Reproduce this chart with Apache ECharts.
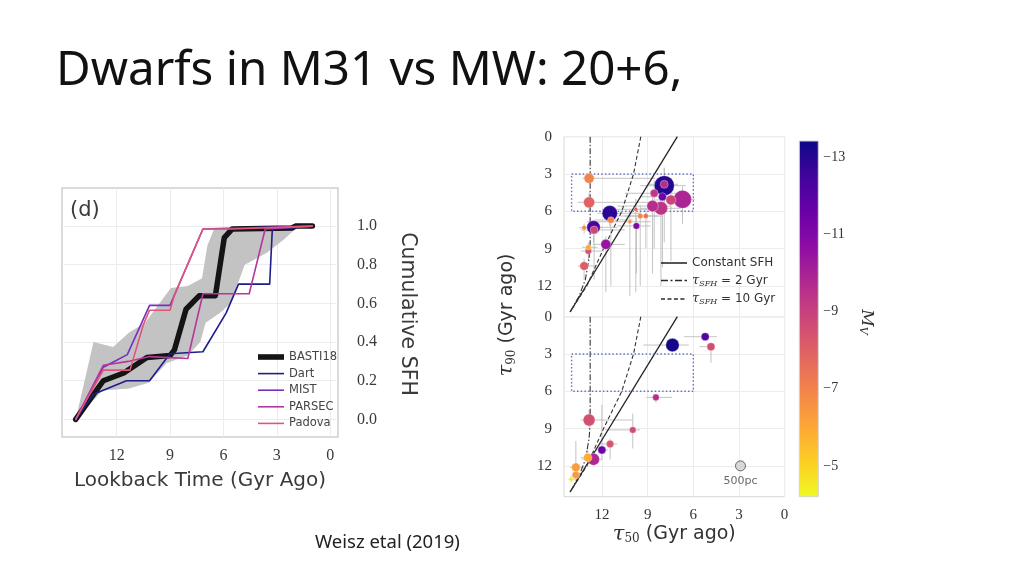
<!DOCTYPE html>
<html><head><meta charset="utf-8">
<script src="https://cdn.jsdelivr.net/npm/echarts@6/dist/echarts.min.js"></script>
<style>html,body{margin:0;padding:0;background:#fff}#c{width:1024px;height:576px}</style>
</head><body><div id="c"></div>
<script>
// ---------------- texts ----------------
const slideTitle = 'Dwarfs in M31 vs MW: 20+6,';
const citation = 'Weisz etal (2019)';
const panelTag = '(d)';

// ---------------- left panel: cumulative SFH ----------------
const sfhXTicks = [12, 9, 6, 3, 0];
const sfhYTicks = [0, 0.2, 0.4, 0.6, 0.8, 1.0];
const sfhNames = ['BASTI18', 'Dart', 'MIST', 'PARSEC', 'Padova'];
const bastiX = [14.3, 12.75, 11.6, 10.3, 9.0, 8.75, 8.1, 7.35, 6.45, 5.95, 5.5, 2.15, 1.95, 1.0];
const bastiY = [0, 0.20, 0.24, 0.32, 0.33, 0.36, 0.57, 0.64, 0.64, 0.94, 0.985, 0.99, 1.0, 1.0];
const dartX = [14.3, 13.3, 11.45, 10.15, 9.0, 7.15, 5.85, 5.15, 3.4, 3.25, 2.1, 1.0];
const dartY = [0, 0.13, 0.20, 0.20, 0.34, 0.35, 0.55, 0.70, 0.70, 0.985, 0.99, 1.0];
const mistX = [14.3, 12.75, 11.4, 10.15, 9.0, 7.15, 1.0];
const mistY = [0, 0.27, 0.335, 0.59, 0.59, 0.985, 1.0];
const parsecX = [14.3, 12.75, 11.35, 10.15, 8.0, 7.15, 4.55, 3.65, 1.0];
const parsecY = [0, 0.28, 0.30, 0.325, 0.315, 0.65, 0.65, 0.985, 1.0];
const padovaX = [14.3, 12.75, 11.25, 10.5, 10.15, 9.0, 8.75, 7.15, 5.5, 1.0];
const padovaY = [0, 0.255, 0.255, 0.49, 0.565, 0.565, 0.645, 0.985, 0.985, 1.0];
const bandUpX = [14.3, 13.3, 12.2, 11.3, 10.4, 9.6, 8.95, 8.0, 7.2, 6.9, 6.5, 1.0];
const bandUpY = [0, 0.40, 0.375, 0.45, 0.50, 0.60, 0.68, 0.69, 0.73, 0.90, 0.99, 1.0];
const bandLoX = [14.3, 12.8, 11.3, 10.2, 9.2, 8.0, 7.3, 7.0, 6.2, 5.6, 4.8, 4.2, 3.6, 2.6, 1.9, 1.0];
const bandLoY = [0, 0.15, 0.16, 0.19, 0.29, 0.33, 0.40, 0.50, 0.55, 0.60, 0.80, 0.83, 0.86, 0.93, 0.99, 1.0];

// ---------------- right panel: tau50 vs tau90 ----------------
const tauTicks = [0, 3, 6, 9, 12];
const mvTicks = [-13, -11, -9, -7, -5];
const mvMin = -13.43, mvMax = -4.2;
const modelNames = ['Constant SFH', 'τSFH = 2 Gyr', 'τSFH = 10 Gyr'];
const constX = [14.1, 7.05];
const constY = [14.1, 0];
const tau2X = [12.78, 12.78, 12.85, 13.1, 13.5, 14.1];
const tau2Y = [0, 8.5, 9.8, 11.5, 12.8, 14.1];
const tau10X = [9.45, 9.93, 10.7, 11.9, 13.0, 14.1];
const tau10Y = [0, 3, 6, 9, 12, 14.1];
const boxX = [14, 6, 6, 14, 14];
const boxY = [3, 3, 6, 6, 3];

// M31 (upper panel)
const m31T50 = [7.91, 6.71, 11.49, 12.56, 8.13, 8.68, 12.85, 12.85, 11.75, 7.47, 13.18, 7.91, 8.57, 8.03, 12.52, 11.42, 12.9, 9.74, 12.9, 9.49, 9.12, 13.18, 9.78, 10.17];
const m31T90 = [3.94, 5.04, 6.16, 7.29, 5.76, 5.58, 5.28, 3.35, 8.66, 5.09, 10.4, 3.83, 4.55, 4.83, 7.5, 6.7, 9.2, 7.18, 8.9, 6.38, 6.38, 7.32, 5.84, 6.84];
const m31Mv = [-13.0, -9.9, -12.9, -12.3, -9.4, -9.6, -7.9, -7.0, -10.4, -8.8, -8.1, -9.6, -9.3, -11.6, -8.8, -7.0, -8.4, -11.0, -6.0, -6.9, -7.6, -6.8, -8.0, -6.6];
const m31Size = [1000, 900, 770, 670, 670, 570, 560, 500, 500, 500, 430, 400, 400, 400, 400, 330, 330, 330, 270, 270, 250, 230, 200, 200];
const m31T50Lo = [9.5, 8.0, 12.3, 13.3, 9.5, 11.0, 13.6, 13.3, 12.6, 8.5, 13.6, 9.0, 10.5, 9.5, 13.4, 12.5, 13.4, 11.0, 13.3, 11.5, 10.5, 13.5, 12.0, 13.0];
const m31T50Hi = [6.5, 5.9, 9.5, 11.0, 6.8, 7.5, 8.0, 8.5, 10.5, 6.5, 12.5, 7.0, 7.0, 6.5, 10.5, 10.0, 12.0, 8.8, 12.3, 8.3, 8.0, 12.0, 8.5, 8.8];
const m31T90Lo = [2.5, 4.0, 5.6, 6.8, 5.0, 4.5, 4.5, 3.0, 8.0, 4.0, 9.8, 2.5, 3.5, 3.5, 7.0, 6.2, 8.8, 6.5, 8.5, 5.5, 5.8, 7.0, 5.0, 6.0];
const m31T90Hi = [5.5, 7.0, 7.2, 8.5, 12.0, 11.0, 6.0, 3.8, 12.5, 10.0, 11.5, 8.5, 9.0, 10.5, 11.5, 12.0, 10.0, 11.0, 9.5, 12.0, 9.0, 7.8, 12.5, 12.8];

// MW (lower panel)
const mwT50 = [7.37, 12.85, 12.56, 12.94, 13.72, 5.22, 4.84, 12.01, 11.47, 13.72, 8.46, 9.98, 14.03];
const mwT90 = [2.28, 8.31, 11.47, 11.34, 12.12, 1.61, 2.41, 10.72, 10.24, 12.74, 6.49, 9.11, 13.08];
const mwMv = [-13.3, -8.5, -9.8, -5.9, -6.3, -12.0, -8.6, -11.5, -8.4, -6.4, -9.6, -8.6, -4.6];
const mwSize = [670, 600, 600, 430, 430, 400, 400, 400, 370, 370, 330, 330, 200];
const mwT50Lo = [9.3, 13.4, 13.3, 13.4, 14.1, 6.6, 5.6, 12.4, 12.2, 14.0, 9.1, 11.8, 14.2];
const mwT50Hi = [6.3, 10.0, 12.0, 12.5, 13.2, 4.45, 4.6, 11.6, 11.0, 13.3, 7.4, 9.5, 13.8];
const mwT90Lo = [2.0, 7.5, 10.8, 10.5, 10.0, 1.4, 2.2, 7.1, 9.8, 12.3, 6.3, 7.8, 12.8];
const mwT90Hi = [2.6, 9.0, 12.0, 12.0, 12.6, 1.8, 3.7, 11.5, 11.5, 13.2, 6.9, 10.6, 13.3];

// size key
const refT50 = [2.9], refT90 = [12.0], refSize = [500], refLabel = ['500pc'];

const plasma = ['#0d0887','#41049d','#6a00a8','#8f0da4','#b12a90','#cc4778','#e16462','#f2844b','#fca636','#fcce25','#f0f921'];

// ---------------- build ----------------
const pairs = (xs, ys) => xs.map((x, i) => [x, ys[i]]);
const serif = 'Liberation Serif';
const sans = 'DejaVu Sans';
const txt = '#333';
const sfhColors = ['#141414', '#1d1d8c', '#7430c0', '#b5369c', '#e0567a'];

// legend glyphs (line samples)
const iconThin = 'path://M0,0h26v1.6h-26z';
const iconThick = 'path://M0,0h26v5.6h-26z';
const iconDashDot = 'path://M0,0h7v1.3h-7zM9.5,0h2v1.3h-2zM14,0h7v1.3h-7zM23.5,0h2.5v1.3h-2.5z';
const iconDash = 'path://M0,0h4v1.3h-4zM6.5,0h4v1.3h-4zM13,0h4v1.3h-4zM19.5,0h4v1.3h-4zM26,0h0.1v1.3h-0.1z';

function errRender(params, api) {
  const y = api.value(1), x = api.value(0);
  const a = api.coord([api.value(2), y]), b = api.coord([api.value(3), y]);
  const c = api.coord([x, api.value(4)]), d = api.coord([x, api.value(5)]);
  const st = { stroke: '#b9b9b9', lineWidth: 1, opacity: 0.85 };
  return { type: 'group', children: [
    { type: 'line', shape: { x1: a[0], y1: a[1], x2: b[0], y2: b[1] }, style: st },
    { type: 'line', shape: { x1: c[0], y1: c[1], x2: d[0], y2: d[1] }, style: st }
  ]};
}
const errData = (t50, t90, xl, xh, yl, yh) => t50.map((v, i) => [v, t90[i], xl[i], xh[i], yl[i], yh[i]]);
const ptData = (t50, t90, mv, sz) => t50.map((v, i) => [v, t90[i], mv[i], sz[i]]);

function modelSeries(ax) {
  return [
    { name: modelNames[0], type: 'line', color: '#222', xAxisIndex: ax, yAxisIndex: ax, data: pairs(constX, constY), symbol: 'none', lineStyle: { color: '#222', width: 1.3 }, z: 3 },
    { name: modelNames[1], type: 'line', color: '#333', xAxisIndex: ax, yAxisIndex: ax, data: pairs(tau2X, tau2Y), symbol: 'none', lineStyle: { color: '#333', width: 1.1, type: [6, 2, 1.5, 2] }, z: 3 },
    { name: modelNames[2], type: 'line', color: '#333', xAxisIndex: ax, yAxisIndex: ax, data: pairs(tau10X, tau10Y), symbol: 'none', lineStyle: { color: '#333', width: 1.1, type: [4, 2.5] }, z: 3 },
    { type: 'line', xAxisIndex: ax, yAxisIndex: ax, data: pairs(boxX, boxY), symbol: 'none', lineStyle: { color: '#6272c9', width: 1.4, type: [1.5, 2.2] }, z: 3, silent: true }
  ];
}

function tauXAxis(grid, showLabel) {
  return {
    type: 'value', gridIndex: grid, min: 0, max: 14.5, inverse: true,
    axisLine: { show: false }, axisTick: { show: false, customValues: tauTicks },
    axisLabel: { show: showLabel, customValues: tauTicks, margin: 11, fontFamily: serif, fontSize: 15, color: txt },
    splitLine: { show: true, lineStyle: { color: '#ececec', width: 1 } }
  };
}
function tauYAxis(grid) {
  return {
    type: 'value', gridIndex: grid, min: 0, max: 14.48, inverse: true,
    axisLine: { show: false }, axisTick: { show: false, customValues: tauTicks },
    axisLabel: { customValues: tauTicks, margin: 12, fontFamily: serif, fontSize: 15, color: txt },
    splitLine: { show: true, lineStyle: { color: '#ececec', width: 1 } }
  };
}

const sfhSeries = [
  [bastiX, bastiY, 5.5, 2], [dartX, dartY, 1.6, 3], [mistX, mistY, 1.6, 3], [parsecX, parsecY, 1.6, 3], [padovaX, padovaY, 1.6, 3]
].map((s, i) => ({
  name: sfhNames[i], type: 'line', color: sfhColors[i], xAxisIndex: 0, yAxisIndex: 0, data: pairs(s[0], s[1]), symbol: 'none',
  lineStyle: { color: sfhColors[i], width: s[2], cap: 'round', join: 'round' }, z: s[3]
}));

const option = {
  animation: false,
  backgroundColor: '#fff',
  grid: [
    { left: 62, top: 188, width: 276, height: 249, show: true, borderColor: '#cfcfcf', borderWidth: 1.5, backgroundColor: 'transparent' },
    { left: 564, top: 136.7, width: 220.6, height: 180, show: true, borderColor: '#d6d6d6', borderWidth: 1 },
    { left: 564, top: 316.7, width: 220.6, height: 180, show: true, borderColor: '#d6d6d6', borderWidth: 1 },
    { left: 799.3, top: 141, width: 19, height: 355.7 }
  ],
  xAxis: [
    {
      type: 'value', gridIndex: 0, min: -0.44, max: 15.07, inverse: true,
      axisLine: { show: false }, axisTick: { show: false, customValues: sfhXTicks },
      axisLabel: { customValues: sfhXTicks, margin: 11, fontFamily: serif, fontSize: 16, color: '#3a3a3a' },
      splitLine: { show: true, lineStyle: { color: '#ececec', width: 1 } },
      name: 'Lookback Time (Gyr Ago)', nameLocation: 'middle', nameGap: 34,
      nameTextStyle: { fontFamily: sans, fontSize: 20, color: '#3a3a3a' }
    },
    tauXAxis(1, false),
    Object.assign(tauXAxis(2, true), {
      name: '{t|τ}{s|50} (Gyr ago)', nameLocation: 'middle', nameGap: 27,
      nameTextStyle: { fontFamily: sans, fontSize: 19, color: txt,
        rich: { t: { fontFamily: 'DejaVu Serif', fontStyle: 'italic', fontSize: 21, color: txt },
                s: { fontFamily: 'DejaVu Serif', fontSize: 12, color: txt, padding: [9, 0, 0, 0] } } }
    }),
    { type: 'value', gridIndex: 3, min: 0, max: 1, show: false }
  ],
  yAxis: [
    {
      type: 'value', gridIndex: 0, position: 'right', min: -0.091, max: 1.197,
      axisLine: { show: false }, axisTick: { show: false, customValues: sfhYTicks },
      axisLabel: { customValues: sfhYTicks, margin: 19, fontFamily: serif, fontSize: 16, color: '#3a3a3a', formatter: v => v.toFixed(1) },
      splitLine: { show: true, lineStyle: { color: '#ececec', width: 1 } }
    },
    tauYAxis(1),
    tauYAxis(2),
    {
      type: 'value', gridIndex: 3, position: 'right', min: mvMin, max: mvMax, inverse: true,
      axisLine: { show: false }, axisTick: { show: false, customValues: mvTicks },
      axisLabel: { customValues: mvTicks, margin: 5, fontFamily: serif, fontSize: 14, color: txt, formatter: v => String(v).replace('-', '−') },
      splitLine: { show: false }
    }
  ],
  visualMap: {
    type: 'continuous', show: false, min: mvMin, max: mvMax, dimension: 2,
    seriesIndex: [11, 17], inRange: { color: plasma }
  },
  legend: [
    {
      data: sfhNames.map((n, i) => ({ name: n, icon: i === 0 ? iconThick : iconThin, itemStyle: { color: sfhColors[i] } })),
      orient: 'vertical', left: 253, top: 346, itemWidth: 26, itemHeight: 12, itemGap: 4.6,
      selectedMode: false, textStyle: { fontFamily: sans, fontSize: 11.5, color: '#444' }
    },
    {
      data: modelNames.map((n, i) => ({ name: n, icon: [iconThin, iconDashDot, iconDash][i], itemStyle: { color: '#2a2a2a' } })),
      orient: 'vertical', left: 656, top: 252, itemWidth: 26, itemHeight: 12, itemGap: 5,
      selectedMode: false, textStyle: { fontFamily: sans, fontSize: 12, color: txt,
        rich: { t: { fontFamily: 'DejaVu Serif', fontStyle: 'italic', fontSize: 13, color: txt },
                s: { fontFamily: 'DejaVu Serif', fontStyle: 'italic', fontSize: 8, color: txt, padding: [6, 0, 0, 0] } } },
      formatter: n => n.startsWith('τSFH') ? '{t|τ}{s|SFH}' + n.slice(4) : n
    }
  ],
  series: [
    // 0 grey spread band
    {
      type: 'custom', xAxisIndex: 0, yAxisIndex: 0, data: [[bandUpX[0], bandUpY[0]]], z: 1, silent: true,
      renderItem: (params, api) => {
        const pts = bandUpX.map((x, i) => api.coord([x, bandUpY[i]]));
        for (let i = bandLoX.length - 1; i >= 0; i--) pts.push(api.coord([bandLoX[i], bandLoY[i]]));
        return { type: 'polygon', shape: { points: pts }, style: { fill: '#c3c3c3' } };
      }
    },
    // 1-5 SFH lines
    ...sfhSeries,
    // 6 M31 error bars
    { type: 'custom', xAxisIndex: 1, yAxisIndex: 1, data: errData(m31T50, m31T90, m31T50Lo, m31T50Hi, m31T90Lo, m31T90Hi), encode: { x: [2, 3], y: [4, 5] }, renderItem: errRender, clip: true, z: 2, silent: true },
    // 7-10 models + box
    ...modelSeries(1),
    // 11 M31 points
    { type: 'scatter', xAxisIndex: 1, yAxisIndex: 1, data: ptData(m31T50, m31T90, m31Mv, m31Size), symbolSize: d => d[3] / 50, itemStyle: { opacity: 1, borderColor: 'rgba(255,255,255,0.55)', borderWidth: 0.6 }, z: 5 },
    // 12 MW error bars
    { type: 'custom', xAxisIndex: 2, yAxisIndex: 2, data: errData(mwT50, mwT90, mwT50Lo, mwT50Hi, mwT90Lo, mwT90Hi), encode: { x: [2, 3], y: [4, 5] }, renderItem: errRender, clip: true, z: 2, silent: true },
    // 13-16 models + box
    ...modelSeries(2),
    // 17 MW points
    { type: 'scatter', xAxisIndex: 2, yAxisIndex: 2, data: ptData(mwT50, mwT90, mwMv, mwSize), symbolSize: d => d[3] / 50, itemStyle: { opacity: 1, borderColor: 'rgba(255,255,255,0.55)', borderWidth: 0.6 }, z: 5 },
    // 18 size key
    {
      type: 'scatter', xAxisIndex: 2, yAxisIndex: 2, data: refT50.map((v, i) => [v, refT90[i], refSize[i]]),
      symbolSize: d => d[2] / 50, itemStyle: { color: '#cfcfcf', borderColor: '#4a4a4a', borderWidth: 1 }, z: 5,
      label: { show: true, position: 'bottom', distance: 4, formatter: p => refLabel[p.dataIndex], fontFamily: sans, fontSize: 11, color: '#444' }
    },
    // 19 colour bar
    {
      type: 'custom', xAxisIndex: 3, yAxisIndex: 3, data: [[0, mvMin, 1, mvMax]], encode: { x: [0, 2], y: [1, 3] }, silent: true,
      renderItem: (params, api) => {
        const p0 = api.coord([api.value(0), api.value(1)]);
        const p1 = api.coord([api.value(2), api.value(3)]);
        const stops = plasma.map((c, i) => ({ offset: i / (plasma.length - 1), color: c }));
        return { type: 'rect', shape: { x: Math.min(p0[0], p1[0]), y: Math.min(p0[1], p1[1]), width: Math.abs(p1[0] - p0[0]), height: Math.abs(p1[1] - p0[1]) },
          style: { fill: new echarts.graphic.LinearGradient(0, 0, 0, 1, stops), stroke: '#d4d4d4', lineWidth: 1 } };
      }
    }
  ],
  graphic: [
    { type: 'text', left: 56, top: 47, style: { text: slideTitle, fontFamily: 'Noto Sans', fontSize: 47.5, fill: '#111' } },
    { type: 'text', left: 315, top: 533, style: { text: citation, fontFamily: 'Noto Sans', fontSize: 18.5, fill: '#222' } },
    { type: 'text', left: 70, top: 200, style: { text: panelTag, fontFamily: sans, fontSize: 21, fill: '#3a3a3a' } },
    { type: 'text', x: 407, y: 314, rotation: -Math.PI / 2, style: { text: 'Cumulative SFH', fontFamily: sans, fontSize: 20.5, fill: '#3a3a3a', align: 'center', verticalAlign: 'middle' } },
    { type: 'text', x: 507, y: 315, rotation: Math.PI / 2, style: { text: '{t|τ}{s|90} (Gyr ago)', fontFamily: sans, fontSize: 19, fill: txt, align: 'center', verticalAlign: 'middle',
        rich: { t: { fontFamily: 'DejaVu Serif', fontStyle: 'italic', fontSize: 21, fill: txt }, s: { fontFamily: 'DejaVu Serif', fontSize: 12, fill: txt, padding: [9, 0, 0, 0] } } } },
    { type: 'text', x: 866, y: 322, rotation: -Math.PI / 2, style: { text: '{m|M}{v|V}', align: 'center', verticalAlign: 'middle',
        rich: { m: { fontFamily: 'DejaVu Serif', fontStyle: 'italic', fontSize: 17, fill: txt }, v: { fontFamily: 'DejaVu Serif', fontStyle: 'italic', fontSize: 11, fill: txt, padding: [7, 0, 0, 0] } } } }
  ]
};

const chart = echarts.init(document.getElementById('c'), null, { renderer: 'canvas', width: 1024, height: 576 });
chart.setOption(option);
</script>
</body></html>
